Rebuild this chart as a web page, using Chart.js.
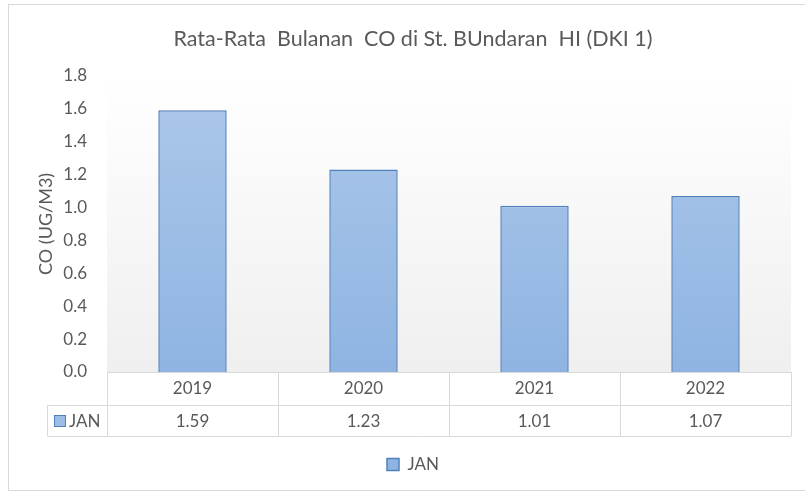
<!DOCTYPE html>
<html>
<head>
<meta charset="utf-8">
<script src="https://cdn.jsdelivr.net/npm/chart.js@4.4.1/dist/chart.umd.min.js"></script>
<style>
  html, body { margin: 0; padding: 0; background: #fff; }
</style>
</head>
<body>
<canvas id="myChart" width="805" height="492"></canvas>
<script>
// data
var years = ["2019", "2020", "2021", "2022"];
var janValues = [1.59, 1.23, 1.01, 1.07];
var seriesName = "JAN";
var chartTitle = "Rata-Rata  Bulanan  CO di St. BUndaran  HI (DKI 1)";
var yTitle = "CO (UG/M3)";

var FONT = "Lato, 'Open Sans', sans-serif";
var GREY = '#595959';
var LINE = '#d9d9d9';

function barFill(context) {
  var area = context.chart.chartArea;
  if (!area) return '#9dbde6';
  var g = context.chart.ctx.createLinearGradient(0, area.top, 0, area.bottom);
  g.addColorStop(0, '#adc8ea');
  g.addColorStop(1, '#8fb4e2');
  return g;
}

// frame, plot background and the data table under the bars
var tablePlugin = {
  id: 'dataTable',
  beforeDraw: function(chart) {
    var ctx = chart.ctx, a = chart.chartArea;
    ctx.save();
    ctx.strokeStyle = LINE;
    ctx.lineWidth = 1;
    ctx.strokeRect(8.5, 4.5, 805, 486);
    var g = ctx.createLinearGradient(0, a.top, 0, a.bottom);
    g.addColorStop(0, '#ffffff');
    g.addColorStop(1, '#efefef');
    ctx.fillStyle = g;
    ctx.fillRect(a.left, a.top, a.right - a.left, a.bottom - a.top);
    ctx.restore();
  },
  afterDraw: function(chart) {
    var ctx = chart.ctx, a = chart.chartArea, x = chart.scales.x;
    var top = Math.round(a.bottom), mid = top + 33, bot = top + 64, keyLeft = 47.5;
    var half = (a.right - a.left) / years.length / 2;
    var rowY = (mid + bot) / 2 + 1;
    ctx.save();
    ctx.strokeStyle = LINE;
    ctx.lineWidth = 1;
    ctx.beginPath();
    ctx.moveTo(a.left, top + 0.5); ctx.lineTo(a.right, top + 0.5);
    ctx.moveTo(keyLeft, mid + 0.5); ctx.lineTo(a.right, mid + 0.5);
    ctx.moveTo(keyLeft, bot + 0.5); ctx.lineTo(a.right, bot + 0.5);
    ctx.moveTo(keyLeft, mid); ctx.lineTo(keyLeft, bot);
    ctx.moveTo(Math.round(a.left) + 0.5, top); ctx.lineTo(Math.round(a.left) + 0.5, bot);
    years.forEach(function(y, i) {
      var r = Math.round(x.getPixelForValue(i) + half) + 0.5;
      ctx.moveTo(r, top); ctx.lineTo(r, bot);
    });
    ctx.stroke();

    ctx.font = '17px ' + FONT;
    ctx.fillStyle = GREY;
    ctx.textAlign = 'center';
    ctx.textBaseline = 'middle';
    janValues.forEach(function(v, i) {
      ctx.fillText(v.toFixed(2), x.getPixelForValue(i), rowY);
    });
    // series key in the table
    ctx.fillStyle = '#9dbde6';
    ctx.fillRect(54, Math.round(rowY) - 7, 12, 12);
    ctx.strokeStyle = '#4f81bd';
    ctx.strokeRect(54.5, Math.round(rowY) - 6.5, 11, 11);
    ctx.fillStyle = GREY;
    ctx.textAlign = 'left';
    ctx.fillText(seriesName, 69, rowY);
    ctx.restore();
  }
};

var ctx = document.getElementById('myChart').getContext('2d');
var chart = new Chart(ctx, {
  type: 'bar',
  data: {
    labels: years,
    datasets: [{
      label: seriesName,
      data: janValues,
      backgroundColor: barFill,
      borderColor: '#4f81bd',
      borderWidth: 1.5,
      borderSkipped: 'bottom',
      barPercentage: 0.4,
      categoryPercentage: 1.0
    }]
  },
  options: {
    responsive: false,
    animation: false,
    layout: { padding: { left: 35, right: 14, top: 0, bottom: 9 } },
    plugins: {
      title: {
        display: true,
        text: chartTitle,
        color: GREY,
        font: { family: FONT, size: 21.5, weight: 'normal' },
        padding: { top: 26, bottom: 24 }
      },
      legend: {
        position: 'bottom',
        labels: {
          color: GREY,
          font: { family: FONT, size: 17 },
          boxWidth: 12,
          boxHeight: 12,
          padding: 20
        }
      },
      tooltip: { enabled: false }
    },
    scales: {
      x: {
        grid: { display: false, drawTicks: false },
        border: { display: false },
        ticks: { color: GREY, font: { family: FONT, size: 17 }, padding: 6 },
        afterFit: function(s) { s.height = 64; }
      },
      y: {
        min: 0,
        max: 1.8,
        grid: { display: false, drawTicks: false },
        border: { display: false },
        ticks: {
          stepSize: 0.2,
          color: GREY,
          font: { family: FONT, size: 17 },
          padding: 20,
          callback: function(v) { return v.toFixed(1); }
        },
        title: {
          display: true,
          text: yTitle,
          color: GREY,
          font: { family: FONT, size: 18 },
          padding: 0
        },
        afterFit: function(s) { s.width = 72; }
      }
    }
  },
  plugins: [tablePlugin]
});
</script>
</body>
</html>
